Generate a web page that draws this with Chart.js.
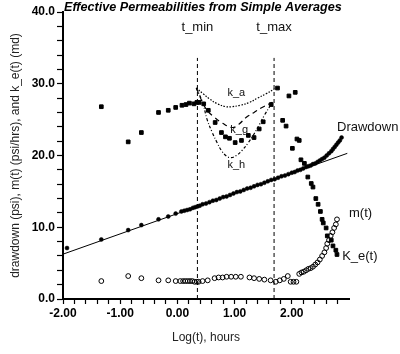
<!DOCTYPE html>
<html>
<head>
<meta charset="utf-8">
<script src="https://cdn.jsdelivr.net/npm/chart.js@4"></script>
<style>
  html, body { margin: 0; padding: 0; background: #fff; }
</style>
</head>
<body>
<canvas id="myChart" width="400" height="354"></canvas>
<script>
// 1. Data (x = log10 of time in hours)

// drawdown, psi
const ddLogT = [-1.93, -1.33, -0.86, -0.63, -0.33, -0.16, -0.03, 0.07, 0.12, 0.17, 0.22, 0.27, 0.31, 0.35, 0.39, 0.44,
  0.50, 0.56, 0.62, 0.68, 0.74, 0.80, 0.86, 0.92, 0.98, 1.04, 1.10, 1.16, 1.22, 1.28, 1.34, 1.40, 1.46, 1.52,
  1.58, 1.64, 1.70, 1.76, 1.82, 1.88, 1.94, 2.00, 2.05, 2.10, 2.15, 2.20, 2.25, 2.29, 2.33, 2.37, 2.41, 2.45,
  2.49, 2.53, 2.57, 2.61, 2.65, 2.69, 2.72, 2.75, 2.78, 2.81, 2.84, 2.87];
const ddPsi = [7.1, 8.3, 9.6, 10.3, 11.1, 11.5, 11.9, 12.2, 12.3, 12.4, 12.5, 12.7, 12.8, 12.9, 13.0, 13.2,
  13.3, 13.5, 13.7, 13.8, 14.0, 14.2, 14.3, 14.5, 14.7, 14.9, 15.0, 15.2, 15.4, 15.5, 15.7, 15.9, 16.0, 16.2,
  16.4, 16.6, 16.7, 16.9, 17.1, 17.2, 17.4, 17.6, 17.7, 17.9, 18.0, 18.2, 18.4, 18.5, 18.6, 18.8, 18.9, 19.1,
  19.3, 19.5, 19.7, 20.0, 20.3, 20.6, 20.9, 21.2, 21.5, 21.8, 22.1, 22.5];

// semilog straight line through the drawdown
const fitLogT = [-2.0, 2.97];
const fitPsi = [6.25, 20.3];

// K_e(t), md
const keLogT = [-1.33, -0.86, -0.63, -0.33, -0.16, -0.03, 0.08, 0.15, 0.21, 0.29, 0.34, 0.38, 0.46, 0.54, 0.66,
  0.77, 0.84, 0.91, 1.01, 1.12, 1.24, 1.34, 1.43, 1.50, 1.64, 1.75, 1.84, 1.90, 1.95, 2.01, 2.06, 2.09, 2.13,
  2.16, 2.22, 2.28, 2.34, 2.37, 2.42, 2.46, 2.50, 2.53, 2.55, 2.60, 2.62, 2.69, 2.72, 2.77, 2.79];
const keMd = [26.8, 21.9, 23.2, 26.0, 26.3, 26.7, 27.0, 27.1, 27.3, 27.2, 27.4, 27.4, 27.2, 26.3, 24.6,
  23.2, 22.6, 22.4, 21.8, 22.1, 22.8, 22.5, 23.7, 24.7, 27.1, 29.4, 24.9, 24.1, 28.3, 21.0, 28.8, 22.3, 22.1,
  19.4, 18.9, 17.0, 16.1, 15.6, 14.0, 13.2, 12.2, 11.1, 10.6, 9.9, 8.8, 8.2, 7.4, 6.8, 6.2];

// m(t), psi/hr
const mLogT = [-1.33, -0.86, -0.63, -0.33, -0.16, -0.03, 0.05, 0.10, 0.14, 0.18, 0.22, 0.26, 0.30, 0.34, 0.37,
  0.44, 0.53, 0.65, 0.72, 0.79, 0.86, 0.94, 1.02, 1.11, 1.26, 1.34, 1.43, 1.52, 1.63, 1.72, 1.79, 1.86, 1.93,
  1.98, 2.03, 2.08, 2.13, 2.17, 2.21, 2.25, 2.29, 2.33, 2.37, 2.41, 2.45, 2.49, 2.53, 2.57, 2.60, 2.62, 2.65,
  2.68, 2.71, 2.74, 2.77, 2.79];
const mRate = [2.5, 3.2, 2.9, 2.6, 2.6, 2.5, 2.5, 2.5, 2.5, 2.5, 2.5, 2.5, 2.4, 2.4, 2.4,
  2.5, 2.6, 2.9, 3.0, 3.0, 3.1, 3.1, 3.1, 3.1, 3.0, 2.9, 2.8, 2.7, 2.6, 2.4, 2.6, 2.8, 3.2,
  2.4, 2.4, 2.4, 3.5, 3.7, 3.8, 4.0, 4.2, 4.3, 4.5, 4.8, 5.1, 5.5, 6.0, 6.5, 7.1, 7.7, 8.2,
  8.8, 9.3, 9.9, 10.4, 11.1];

// simple averages between t_min and t_max
const kaLogT = [0.33, 0.45, 0.56, 0.70, 0.85, 0.95, 1.10, 1.26, 1.40, 1.55, 1.70];
const kaMd = [29.4, 28.6, 27.9, 27.2, 26.8, 26.8, 27.0, 27.4, 28.0, 28.6, 29.3];
const kgLogT = [0.33, 0.50, 0.65, 0.79, 0.96, 1.08, 1.20, 1.34, 1.48, 1.66];
const kgMd = [29.4, 26.5, 25.3, 24.5, 23.9, 24.4, 25.3, 26.0, 26.7, 27.4];
const khLogT = [0.33, 0.44, 0.52, 0.61, 0.70, 0.77, 0.86, 0.94, 1.03, 1.13, 1.24, 1.34, 1.44, 1.52, 1.66];
const khMd = [29.4, 27.4, 25.0, 23.2, 21.7, 20.7, 19.9, 19.7, 20.0, 20.7, 21.8, 23.0, 24.4, 25.6, 27.4];

// interval markers
const tMin = 0.35;
const tMax = 1.69;
const markerTop = 33.6;

// 2. Helpers
const pts = (xs, ys) => xs.map((v, i) => ({ x: v, y: ys[i] }));
const font = "'Liberation Sans', Arial, sans-serif";

// free text placed in data units
const notes = [
  { text: "t_min", x: tMin, y: 37.9, size: 13, align: "center" },
  { text: "t_max", x: tMax, y: 37.9, size: 13, align: "center" },
  { text: "k_a", x: 1.03, y: 28.7, size: 11, align: "center" },
  { text: "k_g", x: 1.08, y: 23.6, size: 11, align: "center" },
  { text: "k_h", x: 1.03, y: 18.75, size: 11, align: "center" },
  { text: "Drawdown", x: 2.79, y: 23.9, size: 13, align: "left" },
  { text: "m(t)", x: 3.0, y: 11.9, size: 13, align: "left" },
  { text: "K_e(t)", x: 2.88, y: 6.0, size: 13, align: "left" }
];

const notesPlugin = {
  id: "notes",
  afterDraw(chart) {
    const { ctx, chartArea, scales: { x, y } } = chart;
    ctx.save();
    ctx.fillStyle = "#111";
    ctx.textBaseline = "middle";
    notes.forEach(n => {
      ctx.font = `${n.size}px ${font}`;
      ctx.textAlign = n.align;
      ctx.fillText(n.text, x.getPixelForValue(n.x), y.getPixelForValue(n.y));
    });
    // chart title
    ctx.fillStyle = "#000";
    ctx.font = `italic bold 12.6px ${font}`;
    ctx.textAlign = "left";
    ctx.textBaseline = "alphabetic";
    ctx.fillText("Effective Permeabilities from Simple Averages", chartArea.left + 1, 11);
    ctx.restore();
  }
};

// 3. Chart
const ctx = document.getElementById("myChart").getContext("2d");
new Chart(ctx, {
  type: "scatter",
  data: {
    datasets: [
      {
        label: "t_min",
        data: pts([tMin, tMin], [0, markerTop]),
        showLine: true, borderColor: "#000", borderWidth: 1, borderDash: [4, 3], pointRadius: 0
      },
      {
        label: "t_max",
        data: pts([tMax, tMax], [0, markerTop]),
        showLine: true, borderColor: "#000", borderWidth: 1, borderDash: [4, 3], pointRadius: 0
      },
      {
        label: "fit",
        data: pts(fitLogT, fitPsi),
        showLine: true, borderColor: "#000", borderWidth: 1, pointRadius: 0
      },
      {
        label: "k_a",
        data: pts(kaLogT, kaMd),
        showLine: true, tension: 0.4, borderColor: "#000", borderWidth: 1.2, borderDash: [1.5, 1.5], pointRadius: 0
      },
      {
        label: "k_g",
        data: pts(kgLogT, kgMd),
        showLine: true, tension: 0.4, borderColor: "#000", borderWidth: 1.2, borderDash: [5, 4], pointRadius: 0
      },
      {
        label: "k_h",
        data: pts(khLogT, khMd),
        showLine: true, tension: 0.4, borderColor: "#000", borderWidth: 1.2, borderDash: [3, 2, 1, 2], pointRadius: 0
      },
      {
        label: "Drawdown",
        data: pts(ddLogT, ddPsi),
        pointStyle: "circle", pointRadius: 2, backgroundColor: "#000", borderColor: "#000", borderWidth: 0.5
      },
      {
        label: "K_e(t)",
        data: pts(keLogT, keMd),
        pointStyle: "rect", pointRadius: 2.6, backgroundColor: "#000", borderColor: "#000", borderWidth: 1
      },
      {
        label: "m(t)",
        data: pts(mLogT, mRate),
        pointStyle: "circle", pointRadius: 2.4, backgroundColor: "rgba(0,0,0,0)", borderColor: "#000", borderWidth: 1
      }
    ]
  },
  options: {
    responsive: false,
    animation: false,
    layout: { padding: { top: 12, right: 51, left: 0, bottom: 0 } },
    plugins: {
      legend: { display: false },
      tooltip: { enabled: false }
    },
    scales: {
      x: {
        type: "linear",
        min: -2,
        max: 3,
        afterFit: s => { s.height = 55; },
        border: { display: true, color: "#000", width: 2 },
        grid: {
          drawOnChartArea: false,
          drawTicks: true,
          tickLength: 5,
          tickWidth: 1.2,
          tickColor: c => (c.tick && c.tick.value > 2.9 ? "rgba(0,0,0,0)" : "#000")
        },
        ticks: {
          stepSize: 0.2,
          autoSkip: false,
          maxRotation: 0,
          padding: 2,
          color: "#000",
          font: { family: font, size: 12, weight: "bold" },
          callback: v => (Math.abs(v - Math.round(v)) < 1e-6 && v < 2.5 ? v.toFixed(2) : "")
        },
        title: {
          display: true,
          text: "Log(t), hours",
          color: "#222",
          font: { family: font, size: 12 },
          padding: { top: 0, bottom: 9 }
        }
      },
      y: {
        type: "linear",
        min: 0,
        max: 40,
        afterFit: s => { s.width = 63; },
        border: { display: true, color: "#000", width: 2 },
        grid: {
          drawOnChartArea: false,
          drawTicks: true,
          tickLength: 6,
          tickWidth: 1.2,
          tickColor: "#000"
        },
        ticks: {
          stepSize: 2,
          autoSkip: false,
          padding: 2,
          color: "#000",
          font: { family: font, size: 12, weight: "bold" },
          callback: v => (v % 10 === 0 ? v.toFixed(1) : "")
        },
        title: {
          display: true,
          text: "drawdown (psi), m(t) (psi/hrs), and k_e(t) (md)",
          color: "#222",
          font: { family: font, size: 12 },
          padding: { top: 8, bottom: 0 }
        }
      }
    }
  },
  plugins: [notesPlugin]
});
</script>
</body>
</html>
